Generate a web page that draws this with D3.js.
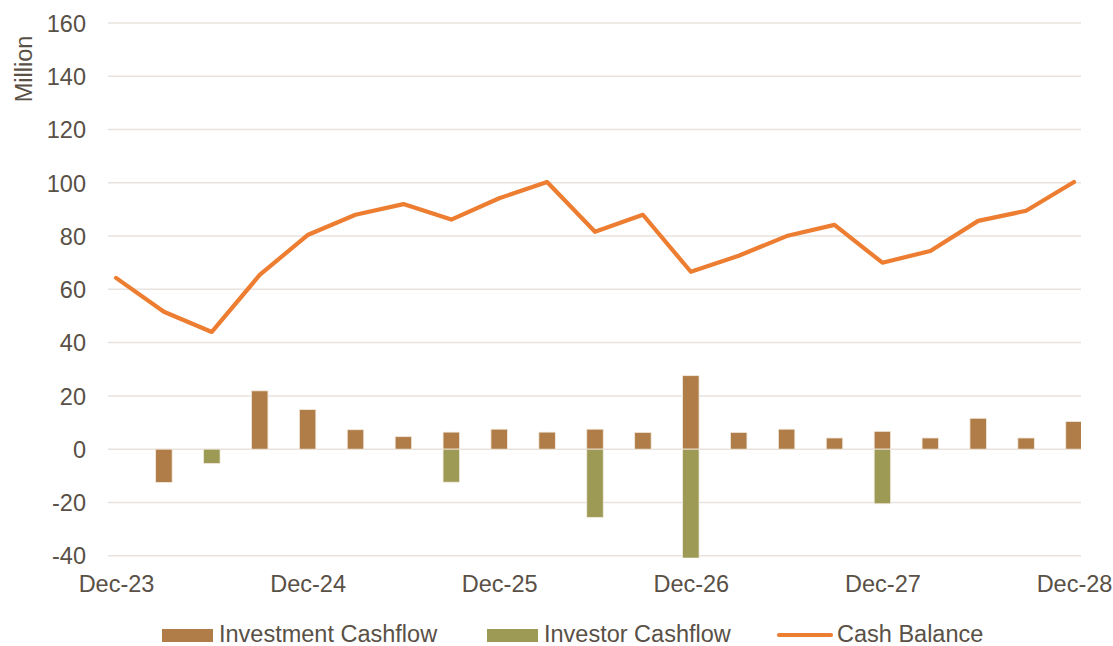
<!DOCTYPE html>
<html>
<head>
<meta charset="utf-8">
<script src="https://cdn.jsdelivr.net/npm/d3@7"></script>
<style>
    body { margin: 0; background: #fff; }
    text { font-family: "Liberation Sans", Arial, sans-serif; fill: #595046; }
</style>
</head>
<body>
<script>
// quarterly periods, Dec-23 .. Dec-28
var periods = ["Dec-23", "Mar-24", "Jun-24", "Sep-24", "Dec-24", "Mar-25", "Jun-25", "Sep-25", "Dec-25",
    "Mar-26", "Jun-26", "Sep-26", "Dec-26", "Mar-27", "Jun-27", "Sep-27", "Dec-27",
    "Mar-28", "Jun-28", "Sep-28", "Dec-28"];
var investmentCashflow = [0, -12.5, 0, 21.9, 14.9, 7.3, 4.7, 6.4, 7.5, 6.4, 7.5, 6.3, 27.6, 6.3, 7.5, 4.2, 6.7, 4.2, 11.6, 4.2, 10.4];
var investorCashflow = [0, 0, -5.4, 0, 0, 0, 0, -12.4, 0, 0, -25.6, 0, -41, 0, 0, 0, -20.5, 0, 0, 0, 0];
var cashBalance = [64.3, 51.6, 44, 65.4, 80.4, 88, 92, 86.2, 94.2, 100.3, 81.6, 88, 66.6, 72.6, 80, 84.2, 70, 74.4, 85.7, 89.5, 100.3];
var yTicks = [-40, -20, 0, 20, 40, 60, 80, 100, 120, 140, 160];
var xTickIdx = [0, 4, 8, 12, 16, 20];

var W = 1113, H = 646;
var plotLeft = 108, plotRight = 1081, plotTop = 23, plotBottom = 555.7;
var fontSize = "23.5px";

var svg = d3.select("body").append("svg")
    .attr("width", W)
    .attr("height", H);

var x = d3.scaleLinear().domain([0, periods.length - 1]).range([116, 1074]);
var y = d3.scaleLinear().domain([-40, 160]).range([plotBottom, plotTop]);

svg.append("defs").append("clipPath").attr("id", "plot")
    .append("rect")
    .attr("x", plotLeft).attr("y", plotTop)
    .attr("width", plotRight - plotLeft).attr("height", plotBottom - plotTop + 2);

// gridlines
svg.append("g")
    .selectAll("line")
    .data(yTicks)
    .enter().append("line")
    .attr("x1", plotLeft).attr("x2", plotRight)
    .attr("y1", function (d) { return y(d); })
    .attr("y2", function (d) { return y(d); })
    .attr("stroke", "#e8e3de")
    .attr("stroke-width", 1.5);

// y axis labels
var yAxis = d3.axisLeft(y).tickValues(yTicks).tickSize(0).tickPadding(0)
    .tickFormat(function (d) { return String(d); });
var gy = svg.append("g").attr("transform", "translate(86,0)").call(yAxis);
gy.select(".domain").remove();
gy.selectAll("text").style("font-size", fontSize).attr("dy", "0.35em")
    .style("font-family", "'Liberation Sans', Arial, sans-serif").attr("fill", "#595046");

svg.append("text")
    .attr("transform", "translate(32,69) rotate(-90)")
    .attr("text-anchor", "middle")
    .style("font-size", fontSize)
    .text("Million");

// x axis labels
var xAxis = d3.axisBottom(x).tickValues(xTickIdx).tickSize(0).tickPadding(0)
    .tickFormat(function (i) { return periods[i]; });
var gx = svg.append("g").attr("transform", "translate(0,592)").call(xAxis);
gx.select(".domain").remove();
gx.selectAll("text").style("font-size", fontSize).attr("dy", "0")
    .style("font-family", "'Liberation Sans', Arial, sans-serif").attr("fill", "#595046");

var barW = 16.5;
var bars = svg.append("g").attr("clip-path", "url(#plot)");

function drawBars(values, color) {
    bars.append("g")
        .selectAll("rect")
        .data(values.map(function (v, i) { return { v: v, i: i }; }).filter(function (d) { return d.v !== 0; }))
        .enter().append("rect")
        .attr("x", function (d) { return x(d.i) - barW / 2; })
        .attr("y", function (d) { return y(Math.max(0, d.v)); })
        .attr("width", barW)
        .attr("height", function (d) { return Math.abs(y(d.v) - y(0)); })
        .attr("fill", color)
        .attr("stroke", "#f3ebe0")
        .attr("stroke-width", 0.8);
}

drawBars(investmentCashflow, "#b07d48");
drawBars(investorCashflow, "#9c9a54");

var line = d3.line()
    .x(function (d, i) { return x(i); })
    .y(function (d) { return y(d); });

svg.append("path")
    .datum(cashBalance)
    .attr("d", line)
    .attr("fill", "none")
    .attr("stroke", "#ed7d31")
    .attr("stroke-width", 4.2)
    .attr("stroke-linejoin", "round")
    .attr("stroke-linecap", "round");

// legend
var legend = svg.append("g").attr("transform", "translate(0,635)");
var legendItems = [
    { name: "Investment Cashflow", color: "#b07d48", type: "bar", x: 162 },
    { name: "Investor Cashflow", color: "#9c9a54", type: "bar", x: 487 },
    { name: "Cash Balance", color: "#ed7d31", type: "line", x: 777 }
];
legendItems.forEach(function (d) {
    if (d.type === "bar") {
        legend.append("rect")
            .attr("x", d.x).attr("y", -6)
            .attr("width", 51).attr("height", 13)
            .attr("fill", d.color);
        legend.append("text").attr("x", d.x + 57).attr("y", 7)
            .style("font-size", fontSize).text(d.name);
    } else {
        legend.append("line")
            .attr("x1", d.x + 2).attr("x2", d.x + 54)
            .attr("y1", 0).attr("y2", 0)
            .attr("stroke", d.color).attr("stroke-width", 4.2)
            .attr("stroke-linecap", "round");
        legend.append("text").attr("x", d.x + 60).attr("y", 7)
            .style("font-size", fontSize).text(d.name);
    }
});
</script>
</body>
</html>
